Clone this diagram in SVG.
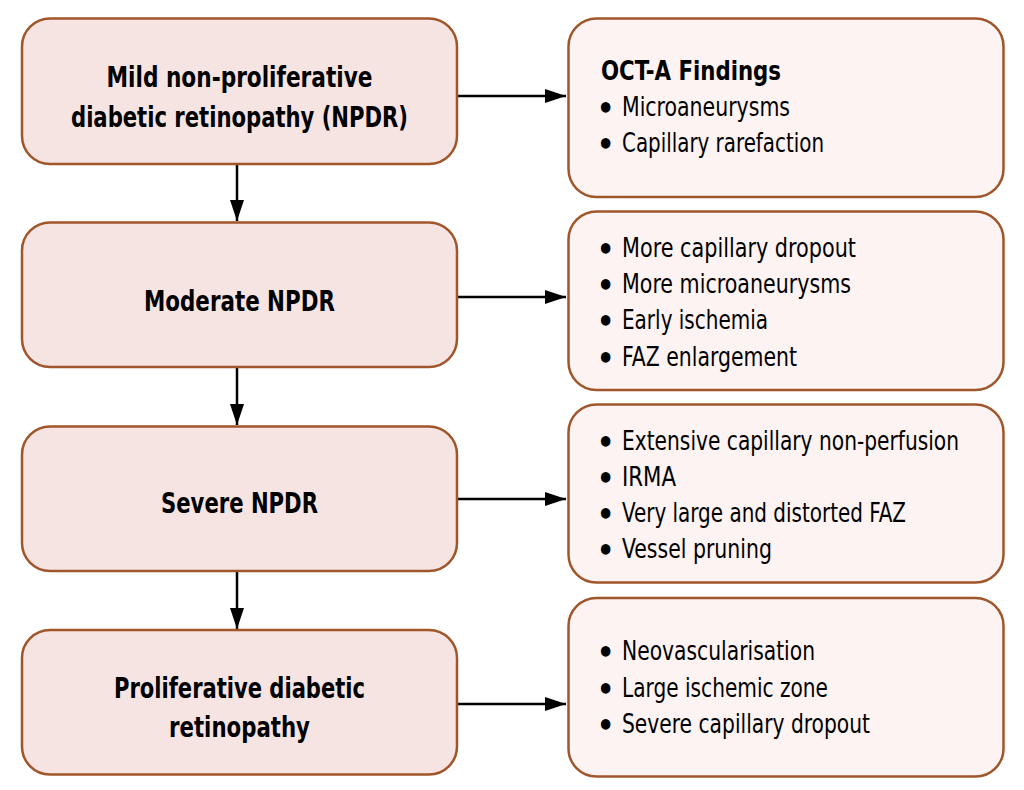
<svg xmlns="http://www.w3.org/2000/svg" width="1024" height="790" viewBox="0 0 1024 790">
<style>
.stage{fill:#f5e4e2;stroke:#a0562b;stroke-width:2.5}
.find{fill:#fcf3f2;stroke:#a0562b;stroke-width:2.5}
.t{font-family:"DejaVu Sans Condensed","DejaVu Sans","Liberation Sans",sans-serif;font-stretch:condensed;fill:#000}
.h{font-size:29px;font-weight:bold;text-anchor:middle}
.b{font-size:26px}
.bt{font-size:27px;font-weight:bold}
.dot{font-size:30px;font-weight:bold}
.conn{stroke:#000;stroke-width:2.5;fill:none}
</style>
<defs>
<marker id="arr" markerUnits="userSpaceOnUse" markerWidth="22" markerHeight="16" refX="21" refY="8" orient="auto">
<path d="M0,1 L21,8 L0,15 Z" fill="#000"/>
</marker>
</defs>
<rect width="1024" height="790" fill="#fff"/>
<g id="connectors">
<line class="conn" x1="458" y1="96" x2="566" y2="96" marker-end="url(#arr)"/>
<line class="conn" x1="458" y1="297" x2="566" y2="297" marker-end="url(#arr)"/>
<line class="conn" x1="458" y1="499" x2="566" y2="499" marker-end="url(#arr)"/>
<line class="conn" x1="458" y1="704" x2="566" y2="704" marker-end="url(#arr)"/>
<line class="conn" x1="237" y1="164" x2="237" y2="221" marker-end="url(#arr)"/>
<line class="conn" x1="237" y1="368" x2="237" y2="425" marker-end="url(#arr)"/>
<line class="conn" x1="237" y1="572" x2="237" y2="629" marker-end="url(#arr)"/>
</g>
<g id="mild">
<rect class="stage" x="22" y="18.5" width="435" height="145.5" rx="28"/>
<text class="t h" x="239.5" y="87" textLength="266" lengthAdjust="spacingAndGlyphs">Mild non-proliferative</text>
<text class="t h" x="239.5" y="127" textLength="337" lengthAdjust="spacingAndGlyphs">diabetic retinopathy (NPDR)</text>
</g>
<g id="moderate">
<rect class="stage" x="22" y="222.5" width="435" height="144.5" rx="28"/>
<text class="t h" x="239.5" y="310.5" textLength="191" lengthAdjust="spacingAndGlyphs">Moderate NPDR</text>
</g>
<g id="severe">
<rect class="stage" x="22" y="426.5" width="435" height="144.5" rx="28"/>
<text class="t h" x="239.5" y="513" textLength="157" lengthAdjust="spacingAndGlyphs">Severe NPDR</text>
</g>
<g id="proliferative">
<rect class="stage" x="22" y="630" width="435" height="144.5" rx="28"/>
<text class="t h" x="239.5" y="698" textLength="251" lengthAdjust="spacingAndGlyphs">Proliferative diabetic</text>
<text class="t h" x="239.5" y="737" textLength="141" lengthAdjust="spacingAndGlyphs">retinopathy</text>
</g>
<g id="findings-mild">
<rect class="find" x="568.5" y="18.5" width="435" height="178.5" rx="28"/>
<text class="t bt" x="601" y="80" textLength="180" lengthAdjust="spacingAndGlyphs">OCT-A Findings</text>
<text class="t b"><tspan class="dot" x="597" y="119">•</tspan><tspan x="622" y="116" textLength="168" lengthAdjust="spacingAndGlyphs">Microaneurysms</tspan></text>
<text class="t b"><tspan class="dot" x="597" y="155">•</tspan><tspan x="622" y="152" textLength="202" lengthAdjust="spacingAndGlyphs">Capillary rarefaction</tspan></text>
</g>
<g id="findings-moderate">
<rect class="find" x="568.5" y="211.5" width="435" height="178.5" rx="28"/>
<text class="t b"><tspan class="dot" x="597" y="260">•</tspan><tspan x="622" y="257" textLength="234" lengthAdjust="spacingAndGlyphs">More capillary dropout</tspan></text>
<text class="t b"><tspan class="dot" x="597" y="296">•</tspan><tspan x="622" y="293" textLength="229" lengthAdjust="spacingAndGlyphs">More microaneurysms</tspan></text>
<text class="t b"><tspan class="dot" x="597" y="332">•</tspan><tspan x="622" y="329" textLength="146" lengthAdjust="spacingAndGlyphs">Early ischemia</tspan></text>
<text class="t b"><tspan class="dot" x="597" y="369">•</tspan><tspan x="622" y="366" textLength="175" lengthAdjust="spacingAndGlyphs">FAZ enlargement</tspan></text>
</g>
<g id="findings-severe">
<rect class="find" x="568.5" y="404.5" width="435" height="178" rx="28"/>
<text class="t b"><tspan class="dot" x="597" y="453">•</tspan><tspan x="622" y="450" textLength="337" lengthAdjust="spacingAndGlyphs">Extensive capillary non-perfusion</tspan></text>
<text class="t b"><tspan class="dot" x="597" y="489">•</tspan><tspan x="622" y="486" textLength="54" lengthAdjust="spacingAndGlyphs">IRMA</tspan></text>
<text class="t b"><tspan class="dot" x="597" y="525">•</tspan><tspan x="622" y="522" textLength="284" lengthAdjust="spacingAndGlyphs">Very large and distorted FAZ</tspan></text>
<text class="t b"><tspan class="dot" x="597" y="561">•</tspan><tspan x="622" y="558" textLength="150" lengthAdjust="spacingAndGlyphs">Vessel pruning</tspan></text>
</g>
<g id="findings-proliferative">
<rect class="find" x="568.5" y="598" width="435" height="178.5" rx="28"/>
<text class="t b"><tspan class="dot" x="597" y="663">•</tspan><tspan x="622" y="660" textLength="193" lengthAdjust="spacingAndGlyphs">Neovascularisation</tspan></text>
<text class="t b"><tspan class="dot" x="597" y="700">•</tspan><tspan x="622" y="697" textLength="206" lengthAdjust="spacingAndGlyphs">Large ischemic zone</tspan></text>
<text class="t b"><tspan class="dot" x="597" y="736">•</tspan><tspan x="622" y="733" textLength="248" lengthAdjust="spacingAndGlyphs">Severe capillary dropout</tspan></text>
</g>
</svg>
